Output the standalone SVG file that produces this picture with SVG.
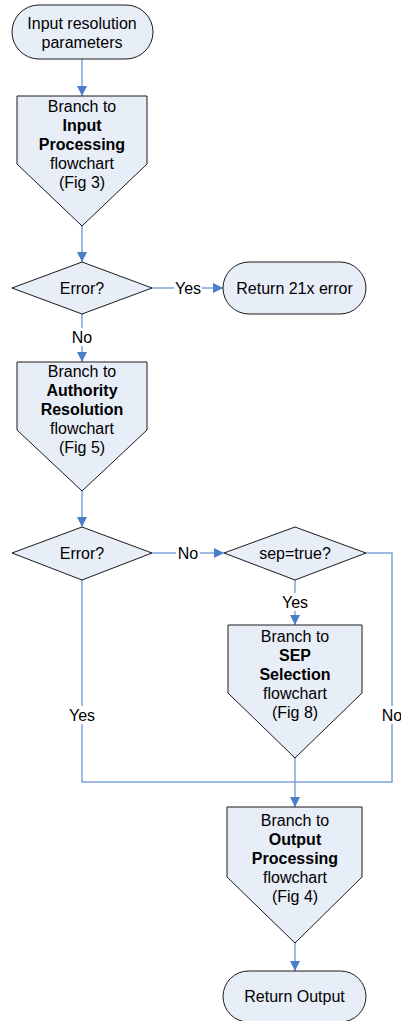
<svg xmlns="http://www.w3.org/2000/svg" width="401" height="1021" viewBox="0 0 401 1021">
  <style>
    .shape { fill: #E8EEF8; stroke: #1a1a1a; stroke-width: 1; }
    .line { fill: none; stroke: #7EA3D9; stroke-width: 1.5; }
    .arrow { marker-end: url(#ah); }
    text { font-family: "Liberation Sans", Arial, sans-serif; font-size: 16px; fill: #000; text-anchor: middle; }
    .b { font-weight: bold; }
    .lblbg { fill: #fff; stroke: none; }
  </style>
  <defs>
    <marker id="ah" markerUnits="userSpaceOnUse" markerWidth="10" markerHeight="10" refX="10" refY="5" orient="auto">
      <path d="M0,0 L10,5 L0,10 z" fill="#4A7EC7"/>
    </marker>
  </defs>

  <!-- connectors -->
  <g id="connectors">
    <path class="line arrow" d="M82,59 V96"/>
    <path class="line arrow" d="M82,226 V262"/>
    <path class="line arrow" d="M152,288 H223"/>
    <path class="line arrow" d="M82,314 V362"/>
    <path class="line arrow" d="M82,491 V527"/>
    <path class="line arrow" d="M152,553 H224"/>
    <path class="line arrow" d="M295,580 V625"/>
    <path class="line" d="M366,553 H392 V782 H295"/>
    <path class="line" d="M82,580 V782 H295"/>
    <path class="line arrow" d="M295,758 V807"/>
    <path class="line arrow" d="M295,943 V971"/>
    <!-- edge labels -->
    <rect class="lblbg" x="174" y="279" width="28" height="18"/>
    <text x="188" y="294">Yes</text>
    <rect class="lblbg" x="72" y="328" width="20" height="18"/>
    <text x="82" y="343">No</text>
    <rect class="lblbg" x="176" y="544" width="24" height="18"/>
    <text x="188" y="559">No</text>
    <rect class="lblbg" x="281" y="593" width="28" height="18"/>
    <text x="295" y="608">Yes</text>
    <rect class="lblbg" x="68" y="706" width="28" height="18"/>
    <text x="82" y="721">Yes</text>
    <rect class="lblbg" x="381" y="706" width="22" height="18"/>
    <text x="392" y="721">No</text>
  </g>

  <g id="start">
    <rect class="shape" x="12" y="5" width="141" height="54" rx="27" ry="27"/>
    <text x="82" y="28.5">Input resolution</text>
    <text x="82" y="47.5">parameters</text>
  </g>

  <g id="input-processing">
    <path class="shape" d="M17,96 H147 V164 L82,226 L17,164 Z"/>
    <text x="82" y="112">Branch to</text>
    <text class="b" x="82" y="131">Input</text>
    <text class="b" x="82" y="150">Processing</text>
    <text x="82" y="169">flowchart</text>
    <text x="82" y="188">(Fig 3)</text>
  </g>

  <g id="error1">
    <path class="shape" d="M12,288 L82,262 L152,288 L82,314 Z"/>
    <text x="82" y="294">Error?</text>
  </g>

  <g id="return-error">
    <rect class="shape" x="223" y="262" width="143" height="52" rx="26" ry="26"/>
    <text x="294.5" y="294">Return 21x error</text>
  </g>

  <g id="authority-resolution">
    <path class="shape" d="M17,362 H147 V430 L82,491 L17,430 Z"/>
    <text x="82" y="377">Branch to</text>
    <text class="b" x="82" y="396">Authority</text>
    <text class="b" x="82" y="415">Resolution</text>
    <text x="82" y="434">flowchart</text>
    <text x="82" y="453">(Fig 5)</text>
  </g>

  <g id="error2">
    <path class="shape" d="M12,553 L82,527 L152,553 L82,580 Z"/>
    <text x="82" y="559">Error?</text>
  </g>

  <g id="sep-check">
    <path class="shape" d="M224,553 L295,527 L366,553 L295,580 Z"/>
    <text x="295" y="559">sep=true?</text>
  </g>

  <g id="sep-selection">
    <path class="shape" d="M228,625 H362 V693 L295,758 L228,693 Z"/>
    <text x="295" y="642">Branch to</text>
    <text class="b" x="295" y="661">SEP</text>
    <text class="b" x="295" y="680">Selection</text>
    <text x="295" y="699">flowchart</text>
    <text x="295" y="718">(Fig 8)</text>
  </g>

  <g id="output-processing">
    <path class="shape" d="M227,807 H362 V877 L295,943 L227,877 Z"/>
    <text x="295" y="826">Branch to</text>
    <text class="b" x="295" y="845">Output</text>
    <text class="b" x="295" y="864">Processing</text>
    <text x="295" y="883">flowchart</text>
    <text x="295" y="902">(Fig 4)</text>
  </g>

  <g id="return-output">
    <rect class="shape" x="223" y="971" width="143" height="51" rx="25.5" ry="25.5"/>
    <text x="294.5" y="1002">Return Output</text>
  </g>
</svg>
